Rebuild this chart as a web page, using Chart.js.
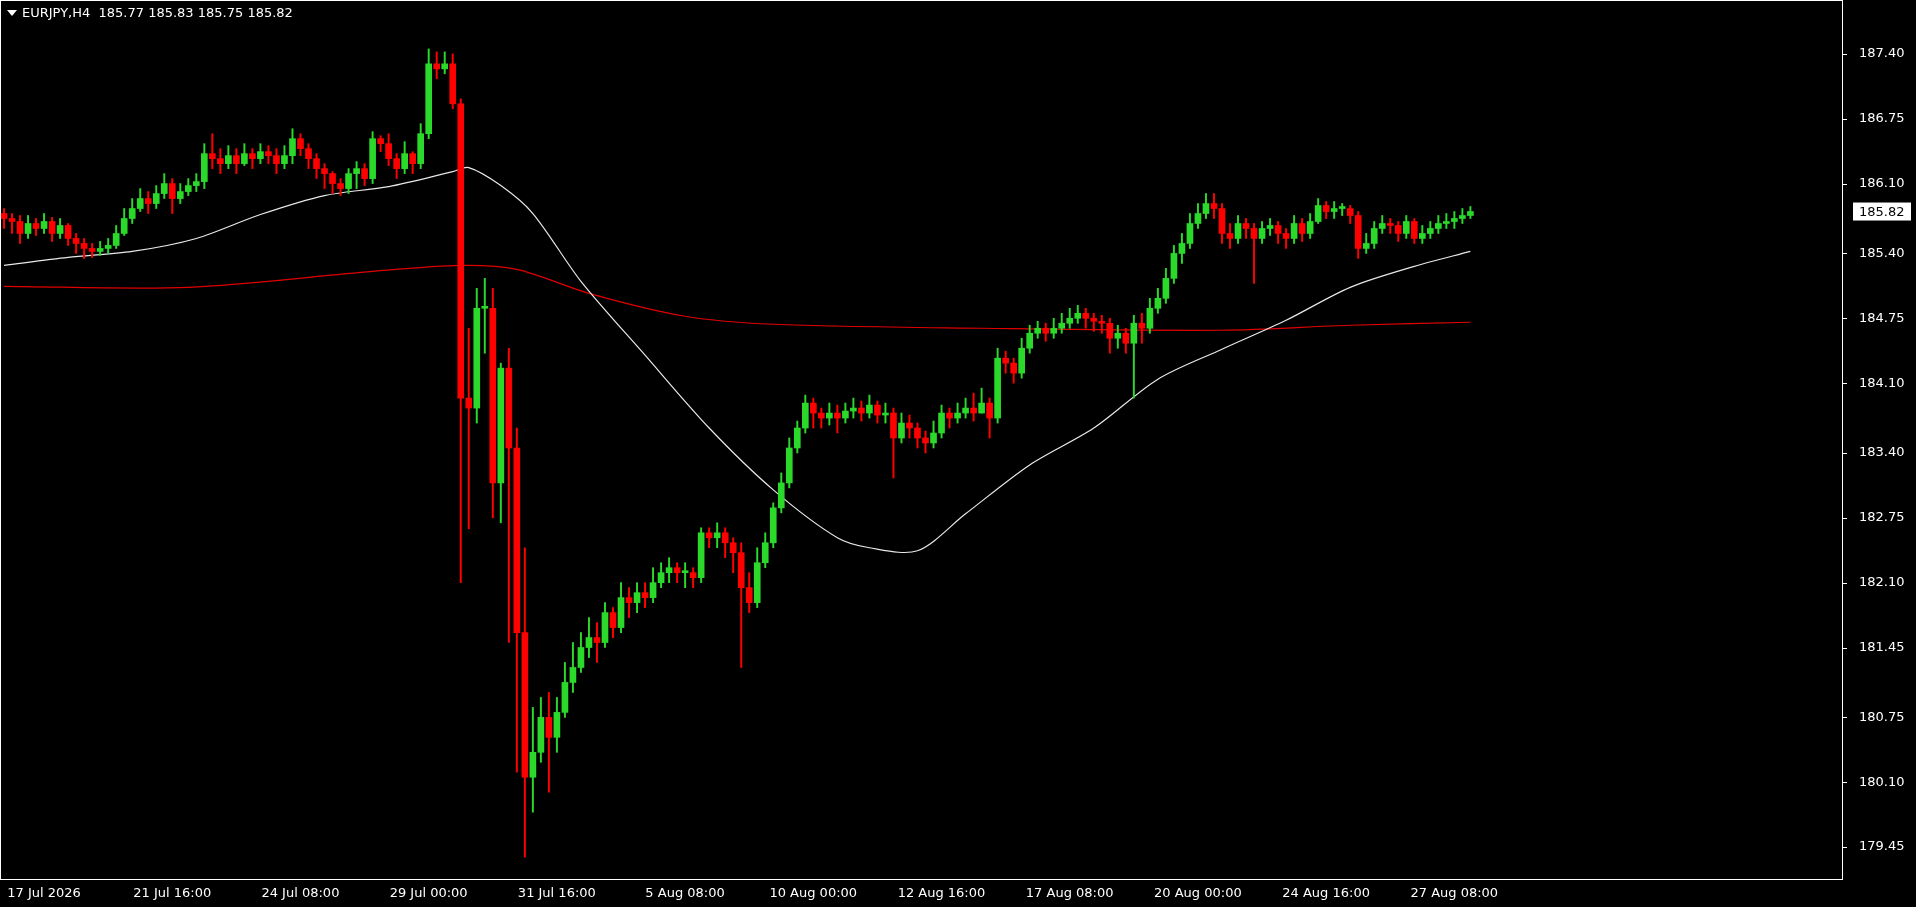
<!DOCTYPE html>
<html><head><meta charset="utf-8">
<script src="https://cdn.jsdelivr.net/npm/chart.js@4"></script>
<style>html,body{margin:0;background:#000;overflow:hidden}#w{width:1916px;height:907px}</style>
</head><body><div id="w"><canvas id="c"></canvas></div>
<script>
const firstOpen = 185.8;
const closes = [185.75,185.72,185.6,185.7,185.65,185.72,185.6,185.68,185.55,185.5,
185.45,185.42,185.45,185.48,185.6,185.75,185.85,185.95,185.9,186.0,
186.1,185.95,186.02,186.08,186.12,186.4,186.35,186.3,186.38,186.3,
186.4,186.35,186.42,186.38,186.3,186.38,186.55,186.45,186.35,186.25,
186.2,186.1,186.05,186.2,186.25,186.15,186.55,186.5,186.35,186.25,
186.4,186.3,186.6,187.3,187.25,187.3,186.9,183.95,183.85,184.85,
184.85,183.1,184.25,183.45,181.6,180.15,180.4,180.75,180.55,180.8,
181.1,181.25,181.45,181.55,181.5,181.8,181.65,181.95,181.9,182.0,
181.95,182.1,182.2,182.25,182.2,182.2,182.15,182.6,182.55,182.6,
182.5,182.4,182.05,181.9,182.3,182.5,182.85,183.1,183.45,183.65,
183.9,183.8,183.75,183.8,183.75,183.82,183.85,183.8,183.88,183.78,
183.8,183.55,183.7,183.65,183.55,183.5,183.6,183.8,183.75,183.8,
183.85,183.8,183.9,183.75,184.35,184.3,184.2,184.45,184.6,184.65,
184.6,184.65,184.7,184.75,184.8,184.75,184.72,184.7,184.55,184.6,
184.5,184.7,184.65,184.85,184.95,185.15,185.4,185.5,185.7,185.8,
185.9,185.85,185.6,185.55,185.7,185.65,185.55,185.65,185.68,185.6,
185.55,185.7,185.6,185.72,185.88,185.82,185.85,185.85,185.78,185.45,
185.5,185.65,185.7,185.68,185.6,185.72,185.55,185.6,185.65,185.7,
185.72,185.75,185.78,185.82];
const highs = [185.85,185.8,185.78,185.78,185.75,185.8,185.76,185.75,185.7,185.6,
185.55,185.5,185.52,185.55,185.68,185.85,185.95,186.05,186.02,186.08,
186.2,186.15,186.1,186.15,186.2,186.5,186.6,186.45,186.48,186.45,
186.5,186.45,186.5,186.48,186.45,186.48,186.65,186.6,186.5,186.4,
186.3,186.22,186.15,186.25,186.32,186.3,186.62,186.58,186.6,186.4,
186.52,186.42,186.7,187.45,187.42,187.42,187.4,186.95,184.65,185.05,
185.15,185.05,184.3,184.45,183.65,182.45,180.85,180.95,181.0,180.95,
181.3,181.5,181.6,181.75,181.7,181.9,181.85,182.1,182.05,182.1,
182.1,182.25,182.3,182.35,182.3,182.3,182.25,182.65,182.65,182.7,
182.65,182.55,182.5,182.2,182.45,182.6,182.9,183.2,183.55,183.72,
183.98,183.95,183.85,183.9,183.88,183.9,183.95,183.92,183.98,183.92,
183.9,183.85,183.8,183.78,183.7,183.62,183.72,183.88,183.85,183.9,
183.95,184.0,184.05,183.95,184.45,184.42,184.35,184.55,184.68,184.72,
184.7,184.75,184.8,184.85,184.88,184.85,184.8,184.78,184.75,184.68,
184.65,184.78,184.8,184.95,185.05,185.25,185.48,185.6,185.8,185.9,
186.0,186.0,185.9,185.7,185.78,185.75,185.7,185.72,185.75,185.72,
185.65,185.78,185.75,185.8,185.95,185.92,185.92,185.9,185.88,185.82,
185.6,185.72,185.78,185.75,185.72,185.78,185.75,185.68,185.72,185.78,
185.8,185.82,185.85,185.87];
const lows = [185.65,185.6,185.5,185.55,185.58,185.6,185.52,185.55,185.48,185.4,
185.35,185.36,185.38,185.4,185.45,185.58,185.7,185.82,185.8,185.85,
185.95,185.8,185.9,185.98,186.02,186.05,186.25,186.2,186.25,186.2,
186.28,186.25,186.3,186.3,186.2,186.25,186.3,186.38,186.25,186.15,
186.05,186.0,185.98,186.0,186.05,186.08,186.1,186.42,186.28,186.15,
186.2,186.2,186.25,186.55,187.15,187.2,186.85,182.1,182.64,183.7,
184.4,182.75,182.7,181.5,180.2,179.35,179.8,180.3,180.0,180.4,
180.75,181.0,181.2,181.35,181.3,181.45,181.55,181.6,181.75,181.8,
181.85,181.9,182.05,182.1,182.1,182.05,182.05,182.1,182.45,182.45,
182.35,182.2,181.25,181.8,181.85,182.25,182.45,182.8,183.05,183.4,
183.6,183.65,183.65,183.68,183.6,183.7,183.75,183.72,183.75,183.7,
183.7,183.15,183.5,183.55,183.45,183.4,183.45,183.55,183.65,183.7,
183.75,183.72,183.8,183.55,183.7,184.2,184.1,184.15,184.4,184.55,
184.52,184.55,184.6,184.65,184.7,184.65,184.62,184.6,184.4,184.45,
184.4,183.95,184.5,184.6,184.8,184.9,185.1,185.3,185.45,185.65,
185.75,185.75,185.5,185.45,185.5,185.55,185.1,185.5,185.58,185.5,
185.45,185.5,185.52,185.55,185.7,185.75,185.75,185.78,185.7,185.35,
185.4,185.45,185.6,185.6,185.52,185.55,185.5,185.5,185.55,185.6,
185.65,185.65,185.7,185.75];
const maFastIdx = [0,8,16,24,32,40,48,56,58,62,66,72,80,88,96,104,108,114,120,128,136,144,152,160,168,176,183];
const maFastVal = [185.28,185.36,185.42,185.55,185.79,185.98,186.07,186.22,186.26,186.08,185.8,185.12,184.38,183.65,183.03,182.55,182.45,182.42,182.79,183.28,183.65,184.14,184.44,184.73,185.06,185.27,185.42];
const maSlowIdx = [0,23,46,57,64,73,85,96,122,152,168,183];
const maSlowVal = [185.07,185.06,185.22,185.28,185.24,185.0,184.77,184.69,184.65,184.63,184.68,184.71];
const xTickLabels = ['17 Jul 2026','21 Jul 16:00','24 Jul 08:00','29 Jul 00:00','31 Jul 16:00','5 Aug 08:00','10 Aug 00:00','12 Aug 16:00','17 Aug 08:00','20 Aug 00:00','24 Aug 16:00','27 Aug 08:00'];
const yTicks = [179.45,180.10,180.75,181.45,182.10,182.75,183.40,184.10,184.75,185.40,186.10,186.75,187.40];
const titleText = 'EURJPY,H4  185.77 185.83 185.75 185.82';
const lastPrice = 185.82;

const TOTAL = 230, STEP = 16;
const labels = Array.from({length: TOTAL}, (_, i) => i);
const opens = closes.map((c, i) => i === 0 ? firstOpen : closes[i - 1]);
const GREEN = '#2bd92b', RED = '#ff0000';
const col = closes.map((c, i) => c >= opens[i] ? GREEN : RED);
const wick = closes.map((c, i) => [lows[i], highs[i]]);
const body = closes.map((c, i) => [opens[i], c]);
const sparse = (idx, val) => { const a = new Array(TOTAL).fill(null); idx.forEach((k, j) => a[k] = val[j]); return a; };
const FONT = '13px "DejaVu Sans"';

const deco = {
  id: 'deco',
  afterDraw(ch) {
    const {ctx, chartArea: a} = ch, y = ch.scales.y;
    ctx.save();
    ctx.strokeStyle = '#fff'; ctx.lineWidth = 1;
    ctx.strokeRect(a.left + 0.5, a.top + 0.5, a.right - a.left - 1, a.bottom - a.top - 1);
    ctx.fillStyle = '#fff'; ctx.font = FONT; ctx.textBaseline = 'middle'; ctx.textAlign = 'left';
    ctx.beginPath(); ctx.moveTo(7, 10); ctx.lineTo(17, 10); ctx.lineTo(12, 16); ctx.closePath(); ctx.fill();
    ctx.fillText(titleText, 22, 14);
    yTicks.forEach(v => {
      const p = y.getPixelForValue(v);
      ctx.fillRect(a.right - 1, Math.round(p), 5, 1);
      ctx.fillText(v.toFixed(2), a.right + 16, p);
    });
    const py = y.getPixelForValue(lastPrice);
    ctx.fillStyle = '#fff'; ctx.fillRect(a.right + 10, py - 9, 58, 18);
    ctx.fillStyle = '#000';
    ctx.fillText(lastPrice.toFixed(2), a.right + 16, py + 1);
    ctx.restore();
  }
};

new Chart(document.getElementById('c'), {
  data: {
    labels,
    datasets: [
      {type: 'line', data: sparse(maSlowIdx, maSlowVal), borderColor: '#e00000', borderWidth: 1.2, pointRadius: 0, spanGaps: true, tension: 0.3, order: 3},
      {type: 'line', data: sparse(maFastIdx, maFastVal), borderColor: '#e8e8e8', borderWidth: 1.2, pointRadius: 0, spanGaps: true, tension: 0.3, order: 2},
      {type: 'bar', data: wick, backgroundColor: col, barThickness: 1.3, grouped: false, order: 1},
      {type: 'bar', data: body, backgroundColor: col, barThickness: 6, minBarLength: 2, grouped: false, order: 0}
    ]
  },
  options: {
    responsive: true, maintainAspectRatio: false, animation: false,
    layout: {padding: {left: 0, top: 0, bottom: 0, right: 0}},
    plugins: {legend: {display: false}, tooltip: {enabled: false}},
    scales: {
      x: {
        grid: {display: false, drawTicks: false}, border: {display: false},
        ticks: {color: '#fff', font: {family: 'DejaVu Sans', size: 13}, autoSkip: false, maxRotation: 0, labelOffset: 40, padding: 6,
          callback: (v) => (v % STEP === 0 && xTickLabels[v / STEP]) ? xTickLabels[v / STEP] : ''},
        afterFit: (s) => { s.height = 27; s.paddingLeft = 0; s.paddingRight = 0; }
      },
      y: {
        position: 'right', min: 179.12, max: 187.94,
        grid: {display: false, drawTicks: false}, border: {display: false},
        afterBuildTicks: (s) => { s.ticks = yTicks.map(v => ({value: v})); },
        ticks: {display: false},
        afterFit: (s) => { s.width = 73; s.paddingTop = 0; s.paddingBottom = 0; }
      }
    }
  },
  plugins: [deco]
});
</script></body></html>
